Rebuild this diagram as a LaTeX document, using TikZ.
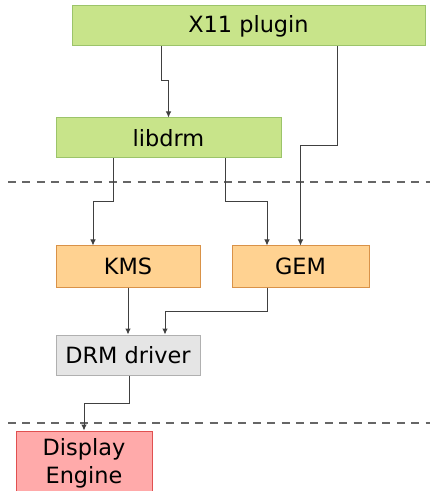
\documentclass[tikz,border=0pt]{standalone}
\usepackage{fontspec}
\setmainfont{DejaVu Sans}
\usetikzlibrary{arrows.meta}

\definecolor{userfill}{HTML}{C8E48A}
\definecolor{userdraw}{HTML}{9CC46A}
\definecolor{kernfill}{HTML}{FFD291}
\definecolor{kerndraw}{HTML}{D99248}
\definecolor{drvfill}{HTML}{E5E5E5}
\definecolor{drvdraw}{HTML}{B0B0B0}
\definecolor{hwfill}{HTML}{FFAAAA}
\definecolor{hwdraw}{HTML}{E05050}

\begin{document}
\begin{tikzpicture}[
    x=0.5pt, y=-0.5pt,
    box/.style={rectangle, line width=0.5pt, minimum height=20pt, align=center,
        inner sep=0pt, font=\fontsize{11.2}{14}\selectfont},
    user/.style={box, draw=userdraw, fill=userfill},
    kern/.style={box, draw=kerndraw, fill=kernfill},
    drv/.style={box, draw=drvdraw, fill=drvfill},
    hw/.style={box, draw=hwdraw, fill=hwfill},
    conn/.style={-{Latex[length=3pt,width=2.8pt]}, line width=0.5pt, draw=black!75},
    layer/.style={dashed, dash pattern=on 4pt off 3.2pt, line width=0.55pt, draw=black!60}
]
\clip (0,0) rectangle (430,491);
\useasboundingbox (0,0) rectangle (430,491);

\node[user, minimum width=176.5pt] (x11) at (248.5,26) {X11 plugin};
\node[user, minimum width=112.5pt] (libdrm) at (168.5,138) {libdrm};
\node[kern, minimum width=72pt, minimum height=20.5pt] (kms) at (128,266.5) {KMS};
\node[kern, minimum width=68.5pt, minimum height=20.5pt] (gem) at (300.5,266.5) {GEM};
\node[drv, minimum width=72pt] (drm) at (128,355) {DRM driver};
\node[hw, minimum width=68pt, minimum height=32pt] (disp) at (84,463) {Display\\Engine};

% user / kernel / hardware boundaries
\draw[layer] (8,182) -- (430,182);
\draw[layer] (8,423) -- (430,423);

% bend points
\coordinate (b1) at (161,81);
\coordinate (b2) at (337,146);
\coordinate (b3) at (113,202);
\coordinate (b4) at (225,202);
\coordinate (b5) at (267,311);
\coordinate (b6) at (129,403);
\coordinate (t1) at (93,0);
\coordinate (t2) at (267,0);
\coordinate (t3) at (165,0);

\draw[conn] (b1 |- x11.south) -- (b1) -| (libdrm.north);
\draw[conn] (b2 |- x11.south) -- (b2) -| (gem.north);
\draw[conn] (b3 |- libdrm.south) -- (b3) -| (t1 |- kms.north);
\draw[conn] (b4 |- libdrm.south) -- (b4) -| (t2 |- gem.north);
\draw[conn] (kms) -- (drm);
\draw[conn] (b5 |- gem.south) -- (b5) -| (t3 |- drm.north);
\draw[conn] (b6 |- drm.south) -- (b6) -| (disp.north);
\end{tikzpicture}
\end{document}
